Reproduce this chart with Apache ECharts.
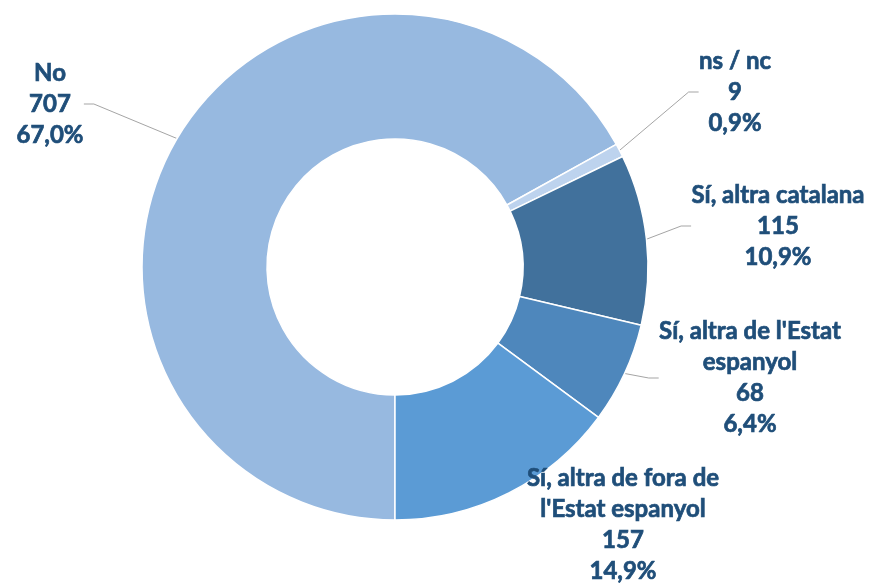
<!DOCTYPE html>
<html>
<head>
<meta charset="utf-8">
<script src="https://cdn.jsdelivr.net/npm/echarts@6/dist/echarts.min.js"></script>
<style>
  html, body { margin: 0; padding: 0; background: #ffffff; }
  #chart { width: 870px; height: 583px; }
</style>
</head>
<body>
<div id="chart"></div>
<script>
// Data
const categories = ["No", "ns / nc", "Sí, altra catalana", "Sí, altra de l'Estat espanyol", "Sí, altra de fora de l'Estat espanyol"];
const labelNames = ["No", "ns / nc", "Sí, altra catalana", "Sí, altra de l'Estat\nespanyol", "Sí, altra de fora de\nl'Estat espanyol"];
const values = [707, 9, 115, 68, 157];

// Style / layout
const colors = ["#97B9E0", "#BDD3EE", "#41719C", "#4E87BC", "#5B9BD5"];
const labelCenters = [[50, 104], [735, 92], [778, 226], [750, 378], [623, 525]];
const showLine = [true, true, true, true, false];

const total = values.reduce((a, b) => a + b, 0);

const chart = echarts.init(document.getElementById('chart'), null, { renderer: 'canvas' });
chart.setOption({
  backgroundColor: '#ffffff',
  animation: false,
  series: [{
    type: 'pie',
    center: [395, 267],
    radius: [128, 253],
    startAngle: 270,
    clockwise: true,
    avoidLabelOverlap: false,
    itemStyle: { borderColor: '#ffffff', borderWidth: 1.5 },
    label: {
      show: true,
      position: 'outside',
      fontFamily: 'Lato',
      fontWeight: 'bold',
      fontSize: 24,
      lineHeight: 31,
      color: '#1F4E79',
      textBorderColor: '#1F4E79',
      textBorderWidth: 0.7,
      align: 'center',
      formatter: function (p) {
        const pct = (p.value / total * 100).toFixed(1).replace('.', ',');
        return labelNames[p.dataIndex] + '\n' + p.value + '\n' + pct + '%';
      }
    },
    labelLine: { show: true, lineStyle: { color: '#A5A5A5', width: 1 }, length: 10, length2: 10 },
    labelLayout: function (params) {
      const c = labelCenters[params.dataIndex];
      return { x: c[0], y: c[1], align: 'center', verticalAlign: 'middle' };
    },
    data: categories.map((name, i) => ({
      name: name,
      value: values[i],
      itemStyle: { color: colors[i] },
      labelLine: { show: showLine[i] }
    }))
  }]
});
</script>
</body>
</html>
